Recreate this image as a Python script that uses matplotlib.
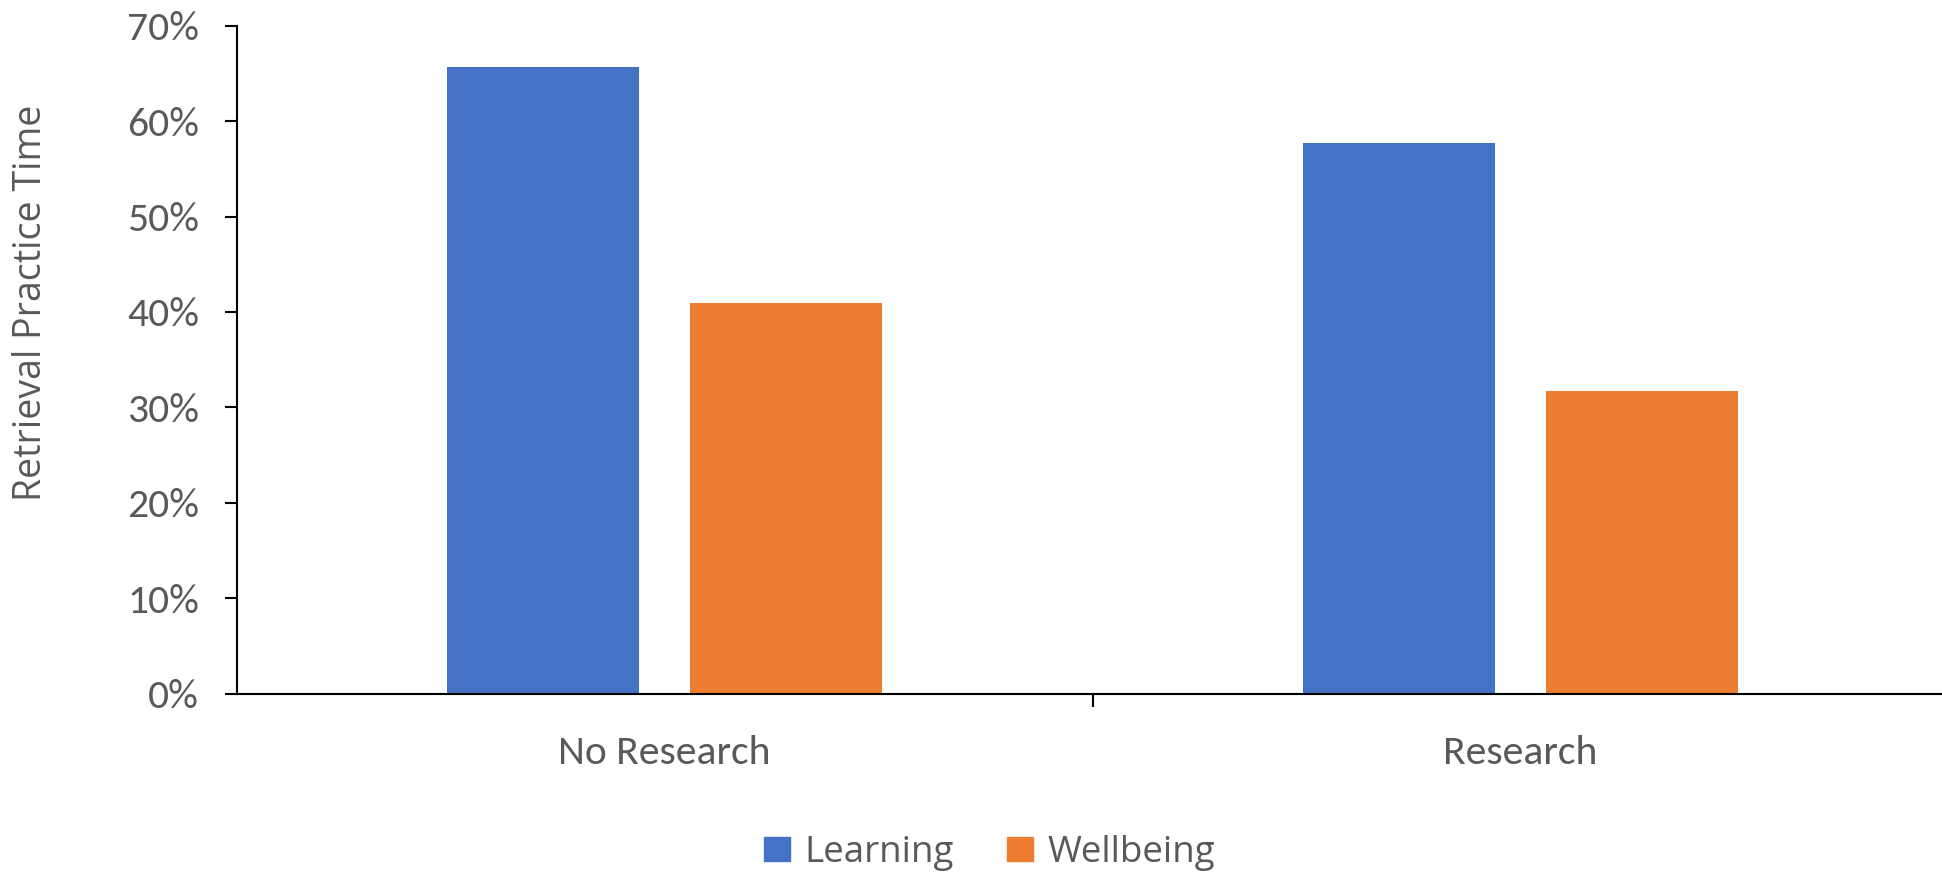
import matplotlib as mpl
mpl.use('Agg')
import matplotlib.pyplot as plt
from matplotlib.patches import Patch
from matplotlib.ticker import FuncFormatter
import numpy as np
import logging
logging.getLogger('matplotlib.font_manager').setLevel(logging.ERROR)

categories = ['No Research', 'Research']
series = ['Learning', 'Wellbeing']
learning = [65.7, 57.7]
wellbeing = [40.9, 31.7]
colors = ['#4472C4', '#ED7D31']
yticks = [0, 10, 20, 30, 40, 50, 60, 70]

txt = '#595959'
tick_font = ['Carlito', 'Liberation Sans Narrow', 'DejaVu Sans']
lab_font = ['Open Sans', 'DejaVu Sans']

fig = plt.figure(figsize=(19.42, 8.74), dpi=100)
ax = fig.add_axes([236.6/1942, (874-693.7)/874, 1712/1942, 668/874])

x = np.arange(len(categories))
w = 0.224
off = 0.142
ax.bar(x - off, learning, w, color=colors[0], label=series[0])
ax.bar(x + off, wellbeing, w, color=colors[1], label=series[1])

ax.set_xlim(-0.5, 1.5)
ax.set_ylim(0, 70)
ax.set_yticks(yticks)
ax.yaxis.set_major_formatter(FuncFormatter(lambda v, p: '%d%%' % v))
ax.set_xticks([0.5])
ax.set_xticklabels([''])
ax.set_xticks(x, minor=True)
ax.set_xticklabels(categories, minor=True)
ax.tick_params(axis='x', which='minor', length=0, pad=30)
ax.tick_params(axis='x', which='major', length=9, width=1.5, color='black')
ax.tick_params(axis='y', length=9, width=1.5, pad=18)

for lab in ax.get_yticklabels() + ax.get_xticklabels(minor=True):
    lab.set_family(tick_font)
    lab.set_fontsize(30)
    lab.set_color(txt)

for s in ['top', 'right']:
    ax.spines[s].set_visible(False)
ax.spines['left'].set_linewidth(1.5)
ax.spines['bottom'].set_linewidth(1.5)
ax.spines['left'].set_bounds(0, 70)

fig.text(31/1942, 1 - 303/874, 'Retrieval Practice Time', rotation=90,
         ha='center', va='center', fontsize=27, color=txt, family=lab_font)

handles = [Patch(color=c, label=s) for c, s in zip(colors, series)]
leg = fig.legend(handles=handles, loc='center', bbox_to_anchor=(0.5095, 0.024),
                 ncol=2, frameon=False, handlelength=0.7,
                 handleheight=0.65, handletextpad=0.4, columnspacing=1.45,
                 prop={'family': lab_font, 'size': 26.5})
for t in leg.get_texts():
    t.set_color(txt)

fig.savefig('out.png', dpi=100)
